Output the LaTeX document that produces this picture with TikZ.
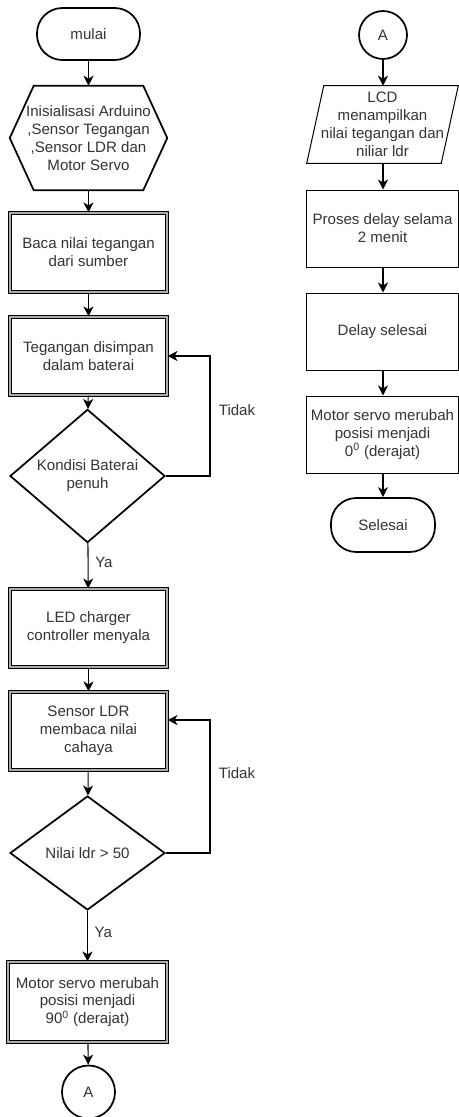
\documentclass[tikz,border=0pt]{standalone}
\usepackage{fontspec}
\setmainfont{Liberation Sans}
\usetikzlibrary{shapes.geometric,arrows.meta,calc}
\begin{document}
\begin{tikzpicture}[x=0.75pt,y=-0.75pt,
  every node/.style={font=\fontsize{11.3}{13.4}\selectfont, text=black!80, align=center, inner sep=0pt},
  thickline/.style={draw=black, line width=1.3pt},
  thinline/.style={draw=black, line width=0.75pt},
  term/.style={thickline, rounded corners=19pt, minimum width=77.25pt, minimum height=39pt},
  dbox/.style={draw=black, line width=0.8pt, double=gray!65, double distance=0.9pt, minimum width=117.75pt, minimum height=58.5pt},
  sbox/.style={thinline, minimum width=114pt, minimum height=57.75pt},
  dec/.style={thickline, diamond, minimum width=116.25pt},
  conn/.style={thickline, circle},
  plain/.style={minimum width=117.75pt, minimum height=78pt},
  arr/.style={draw=black, line width=0.8pt, -{Stealth[length=7.5pt,width=7.5pt,inset=2.2pt]}},
  lbl/.style={text=black!80}
]
\useasboundingbox (0,0) rectangle (459,1117);

% left column
\node[term] (mulai) at (88.5,34) {mulai};
\node[plain] (init) at (88.5,138) {Inisialisasi Arduino\\,Sensor Tegangan\\,Sensor LDR dan\\Motor Servo};
\draw[thickline] (init.west) -- ([xshift=18pt]init.north west) -- ([xshift=-18pt]init.north east) -- (init.east) -- ([xshift=-18pt]init.south east) -- ([xshift=18pt]init.south west) -- cycle;
\node[dbox, minimum height=59.25pt] (baca) at (88.5,252.5) {Baca nilai tegangan\\dari sumber};
\node[dbox] (teg) at (88.5,356) {Tegangan disimpan\\dalam baterai};
\node[dec, minimum height=96pt] (k1) at (87.5,476) {Kondisi Baterai\\penuh};
\node[dbox] (led) at (88.5,628) {LED charger\\controller menyala};
\node[dbox] (ldr) at (88.5,731) {Sensor LDR\\membaca nilai\\cahaya};
\node[dec, minimum height=85.5pt] (k2) at (87.5,853) {Nilai ldr > 50};
\node[dbox, minimum width=119.25pt, minimum height=60pt] (servo) at (87.5,1002) {Motor servo merubah\\posisi menjadi\\90\textsuperscript{0} (derajat)};
\node[conn, minimum size=39.75pt] (a1) at (88.5,1092) {A};

\draw[arr] (mulai) -- (init);
\draw[arr] (init) -- (baca);
\draw[arr] (baca) -- (teg);
\draw[arr] (teg) -- (k1);
\draw[arr] (k1) -- node[lbl, right=5pt, pos=0.42] {Ya} (led);
\draw[arr] (led) -- (ldr);
\draw[arr] (ldr) -- (k2);
\draw[arr] (k2) -- node[lbl, right=5pt, pos=0.42] {Ya} (servo);
\draw[arr] (servo) -- (a1);

\coordinate (l1) at (210,356);
\draw[arr] (k1.east) -| (l1) -- (teg.east);
\node[lbl] (t1) at (237,410) {Tidak};
\coordinate (l2) at (210,720);
\draw[arr] (k2.east) -| (l2) -- (ldr.east |- l2);
\node[lbl] (t2) at (237,773) {Tidak};

% right column
\node[conn, minimum size=36pt] (a2) at (383,35) {A};
\node[minimum width=113.25pt, minimum height=57.75pt] (lcd) at (382.5,124.5) {LCD\\menampilkan\\nilai tegangan dan\\niliar ldr};
\draw[thinline] (lcd.south west) -- ([xshift=-12.75pt]lcd.south east) -- (lcd.north east) -- ([xshift=12.75pt]lcd.north west) -- cycle;
\node[sbox] (proses) at (382.5,228.5) {Proses delay selama\\2 menit};
\node[sbox] (dsel) at (382.5,331.5) {Delay selesai};
\node[sbox] (servo0) at (382.5,434.5) {Motor servo merubah\\posisi menjadi\\0\textsuperscript{0} (derajat)};
\node[term, minimum width=78pt, minimum height=40.5pt] (sel) at (383,525) {Selesai};

\draw[arr] (a2) -- (a2 |- lcd.north);
\draw[arr] (lcd.south -| a2) -- (a2 |- proses.north);
\draw[arr] (proses.south -| a2) -- (a2 |- dsel.north);
\draw[arr] (dsel.south -| a2) -- (a2 |- servo0.north);
\draw[arr] (servo0.south -| a2) -- (sel);
\end{tikzpicture}
\end{document}
